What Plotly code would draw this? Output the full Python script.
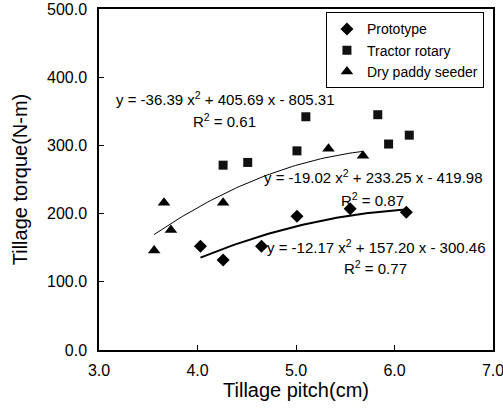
import numpy as np
import plotly.graph_objects as go

# Data
proto_x = [4.03, 4.26, 4.65, 5.01, 5.55, 6.12]
proto_y = [152, 132, 152, 196, 207, 202]

tractor_x = [4.26, 4.51, 5.01, 5.10, 5.83, 5.94, 6.15]
tractor_y = [271, 275, 292, 342, 345, 302, 315]

seeder_x = [3.56, 3.66, 3.73, 4.26, 5.33, 5.68]
seeder_y = [146, 216, 176, 216, 295, 285]

# Trend-line coefficients as printed on the chart (a, b, c for a*x^2 + b*x + c)
proto_coef = [-12.17, 157.20, -300.46]
seeder_coef = [-19.02, 233.25, -419.98]

x_ticks = [3.0, 4.0, 5.0, 6.0, 7.0]
y_ticks = [0.0, 100.0, 200.0, 300.0, 400.0, 500.0]

FONT = "Liberation Sans, Arial, sans-serif"

fig = go.Figure()

fig.add_trace(go.Scatter(x=proto_x, y=proto_y, mode="markers", name="Prototype",
                         marker=dict(symbol="diamond", size=10, color="black")))
fig.add_trace(go.Scatter(x=tractor_x, y=tractor_y, mode="markers", name="Tractor rotary",
                         marker=dict(symbol="square", size=9, color="#111111")))
fig.add_trace(go.Scatter(x=seeder_x, y=seeder_y, mode="markers", name="Dry paddy seeder",
                         marker=dict(symbol="triangle-up", size=11, color="black")))

# Polynomial trendlines
sx = np.linspace(min(seeder_x), max(seeder_x), 60)
fig.add_trace(go.Scatter(x=sx, y=np.polyval(seeder_coef, sx), mode="lines",
                         line=dict(color="black", width=1), showlegend=False, hoverinfo="skip"))
px_ = np.linspace(min(proto_x), max(proto_x), 60)
fig.add_trace(go.Scatter(x=px_, y=np.polyval(proto_coef, px_), mode="lines",
                         line=dict(color="black", width=2), showlegend=False, hoverinfo="skip"))

ann_font = dict(family=FONT, size=15, color="black")
annotations = [
    dict(x=4.28, y=369, text="y = -36.39 x<sup>2</sup> + 405.69 x - 805.31"),
    dict(x=4.27, y=337, text="R<sup>2</sup> = 0.61"),
    dict(x=5.79, y=254, text="y = -19.02 x<sup>2</sup> + 233.25 x - 419.98"),
    dict(x=5.78, y=221, text="R<sup>2</sup> = 0.87"),
    dict(x=5.82, y=152, text="y = -12.17 x<sup>2</sup> + 157.20 x - 300.46"),
    dict(x=5.81, y=121, text="R<sup>2</sup> = 0.77"),
]
for a in annotations:
    a.update(xref="x", yref="y", showarrow=False, font=ann_font, xanchor="center", yanchor="middle")

fig.update_layout(
    width=503, height=414,
    margin=dict(l=99, r=10, t=9, b=64, autoexpand=False),
    paper_bgcolor="white", plot_bgcolor="white",
    font=dict(family=FONT, color="black"),
    annotations=annotations,
    legend=dict(x=0.977, y=0.99, xanchor="right", yanchor="top",
                bordercolor="black", borderwidth=1, bgcolor="white",
                font=dict(family=FONT, size=14, color="black"),
                itemwidth=30, tracegroupgap=0),
    showlegend=True,
)
fig.update_xaxes(range=[3, 7], tickvals=x_ticks, ticktext=[f"{v:.1f}" for v in x_ticks],
                 ticks="inside", ticklen=5, tickcolor="black", automargin=False,
                 ticklabeloverflow="allow", ticklabelstandoff=5,
                 showline=True, linecolor="black", linewidth=1.5, mirror=True,
                 showgrid=False, zeroline=False,
                 tickfont=dict(family=FONT, size=16, color="black"),
                 title=dict(text="Tillage pitch(cm)", font=dict(family=FONT, size=20, color="black"), standoff=4))
fig.update_yaxes(range=[0, 500], tickvals=y_ticks, ticktext=[f"{v:.1f}" for v in y_ticks],
                 ticks="inside", ticklen=5, tickcolor="black", automargin=False,
                 ticklabeloverflow="allow", ticklabelstandoff=7,
                 showline=True, linecolor="black", linewidth=1.5, mirror=True,
                 showgrid=False, zeroline=False,
                 tickfont=dict(family=FONT, size=16, color="black"),
                 title=dict(text="Tillage torque(N-m)", font=dict(family=FONT, size=20, color="black"), standoff=14))

fig.write_html("out.html", config={"displayModeBar": False},
               post_script="document.body.style.margin='0';")
